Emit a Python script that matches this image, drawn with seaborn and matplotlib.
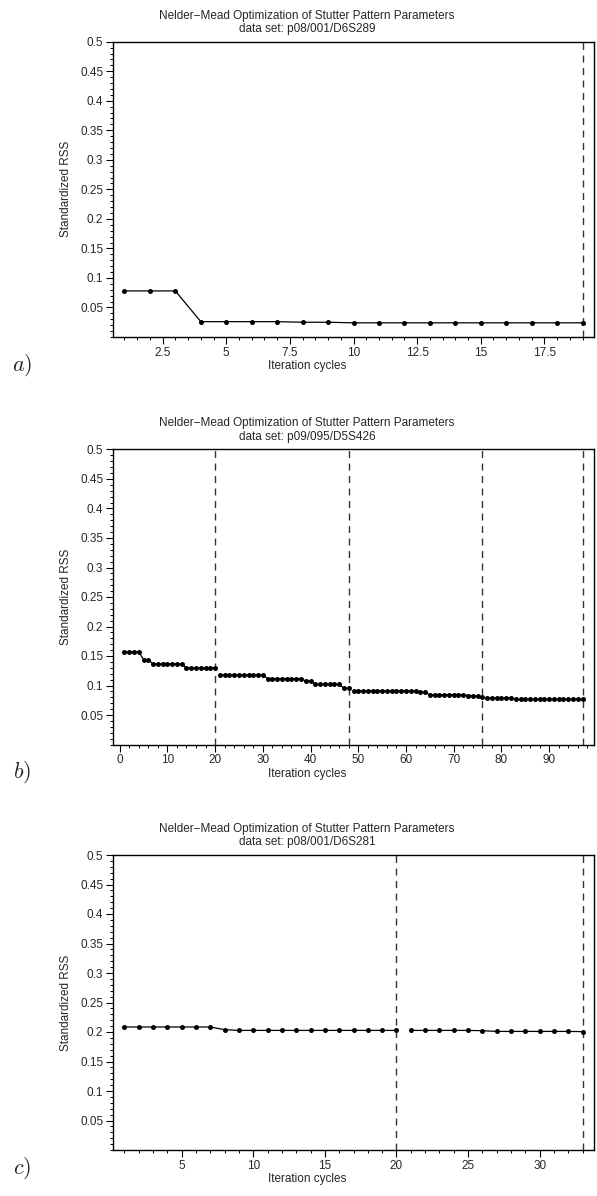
import numpy as np
import pandas as pd
import matplotlib
matplotlib.use("Agg")
import matplotlib.pyplot as plt
from matplotlib.ticker import MultipleLocator, FormatStrFormatter
import seaborn as sns

# ---------------- data ----------------
titles = ["p08/001/D6S289", "p09/095/D5S426", "p08/001/D6S281"]
panel_labels = ["a", "b", "c"]

rss_a = [0.078, 0.078, 0.078, 0.026, 0.026, 0.026, 0.026, 0.025, 0.025,
         0.024, 0.024, 0.024, 0.024, 0.024, 0.024, 0.024, 0.024, 0.024, 0.024]
restarts_a = [19]

rss_b = ([0.157] * 4 + [0.144] * 2 + [0.1364] * 7 + [0.1297] * 7 +      # 1-20
         [0.1178] * 10 + [0.1116] * 8 + [0.1076] * 2 + [0.102] * 6 +     # 21-46
         [0.0952] * 2 +                                                  # 47-48
         [0.0907] * 14 + [0.0885] * 2 + [0.0845] * 8 + [0.083] * 2 +     # 49-74
         [0.0815] + [0.080] +                                            # 75-76
         [0.0786] * 6 + [0.0763] * 15)                                   # 77-97
restarts_b = [20, 48, 76, 97]

rss_c = ([0.2085] * 7 + [0.2039] + [0.2027] * 12 +                       # 1-20
         [0.2027] * 5 + [0.2022] + [0.2010] * 6 + [0.2006])              # 21-33
restarts_c = [20, 33]

x_major = [2.5, 10, 5]
x_minor = [0.5, 2, 1]

# ---------------- style ----------------
sns.set_style("ticks")
plt.rcParams["font.family"] = ["Liberation Sans", "DejaVu Sans"]
plt.rcParams["mathtext.fontset"] = "cm"
plt.rcParams["xtick.direction"] = "out"
plt.rcParams["ytick.direction"] = "out"

W, H = 597, 1196
fig = plt.figure(figsize=(W / 100, H / 100), dpi=100)

left_px, right_px = 113, 594
tops = [41.7, 449.5, 855]
bottoms = [337, 744.5, 1150]
label_y = [365, 772, 1168]

all_rss = [rss_a, rss_b, rss_c]
all_restarts = [restarts_a, restarts_b, restarts_c]

for i in range(3):
    rss = all_rss[i]
    restarts = all_restarts[i]
    n = len(rss)
    it = np.arange(1, n + 1)
    seg = np.zeros(n, dtype=int)
    s = 0
    for k in range(n):
        seg[k] = s
        if (k + 1) in restarts:
            s += 1
    df = pd.DataFrame({"iteration": it, "rss": rss, "segment": seg})

    ax = fig.add_axes([left_px / W, 1 - bottoms[i] / H,
                       (right_px - left_px) / W, (bottoms[i] - tops[i]) / H])
    sns.lineplot(data=df, x="iteration", y="rss", units="segment",
                 estimator=None, color="black", linewidth=0.9,
                 marker="o", markersize=3.6, markeredgewidth=0,
                 markerfacecolor="black", ax=ax, legend=False)
    for r in restarts:
        ax.axvline(r, color="#333333", linestyle=(0, (5, 4)), linewidth=1.0,
                   zorder=1)

    rng = n - 1
    ax.set_xlim(1 - 0.025 * rng, n + 0.025 * rng)
    ax.set_ylim(0, 0.5)
    ax.yaxis.set_major_locator(MultipleLocator(0.05))
    ax.yaxis.set_minor_locator(MultipleLocator(0.01))
    ax.xaxis.set_major_locator(MultipleLocator(x_major[i]))
    ax.xaxis.set_minor_locator(MultipleLocator(x_minor[i]))
    yt = [round(v, 2) for v in np.arange(0.05, 0.501, 0.05)]
    ax.set_yticks(yt)
    ax.set_yticklabels([("%g" % v) for v in yt])
    if i == 0:
        ax.xaxis.set_major_formatter(FormatStrFormatter("%g"))
    ax.tick_params(axis="both", which="major", length=5, width=0.8,
                   labelsize=8.5, pad=2, color="black")
    ax.tick_params(axis="both", which="minor", length=2.5, width=0.7,
                   color="black")
    for sp in ax.spines.values():
        sp.set_visible(True)
        sp.set_linewidth(1.0)
        sp.set_color("black")

    ax.set_xlabel("Iteration cycles", fontsize=8.5)
    ax.set_ylabel("Standardized RSS", fontsize=8.5)
    ax.xaxis.set_label_coords(0.403, -0.078)
    ax.yaxis.set_label_coords(-0.086, 0.5)
    ax.set_title("Nelder\u2212Mead Optimization of Stutter Pattern Parameters\n"
                 "data set: " + titles[i], fontsize=8.5, x=0.403, pad=7,
                 linespacing=1.15)

    fig.text(22 / W, 1 - label_y[i] / H, "$%s)$" % panel_labels[i],
             fontsize=16, ha="center", va="center")

fig.savefig("out.png", dpi=100, facecolor="white")
